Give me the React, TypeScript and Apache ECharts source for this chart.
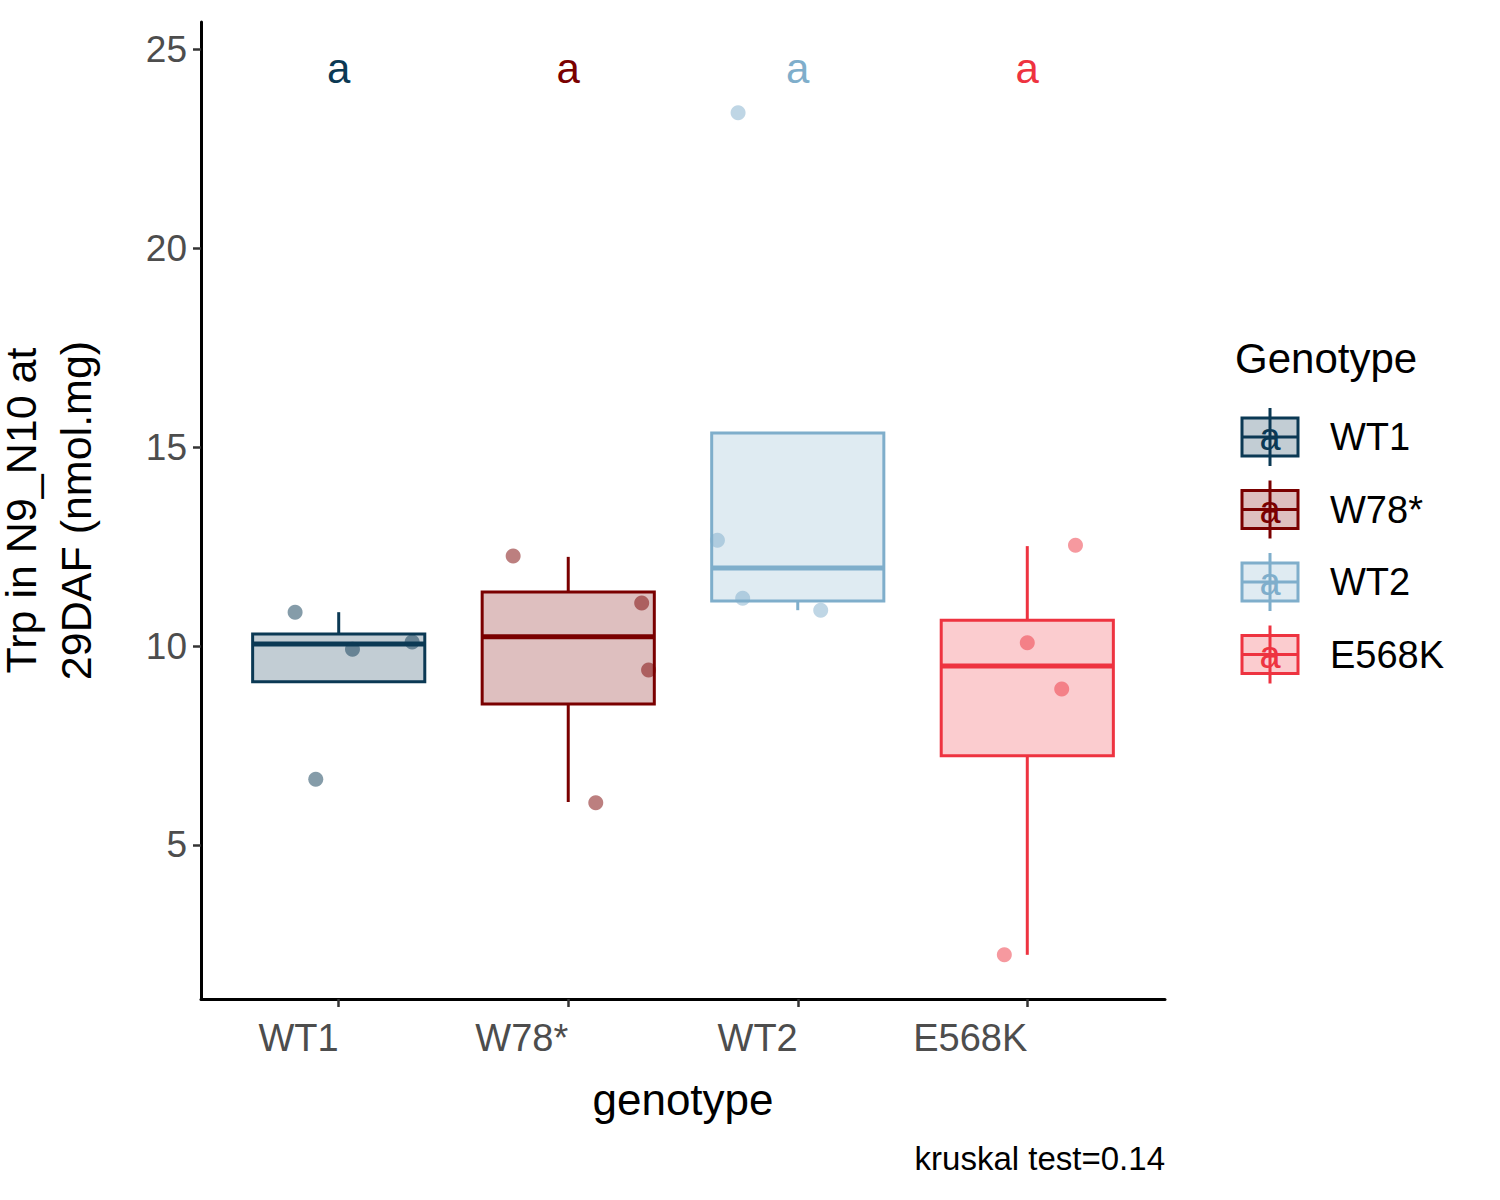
import { useEffect, useRef } from "react";
import * as echarts from "echarts";

const genotypes = ["WT1", "W78*", "WT2", "E568K"];
const colors = ["#0B3954", "#7A0000", "#7FAECB", "#EE3340"];
// [lowerWhisker, q1, median, q3, upperWhisker]
const boxStats = [
  [9.1, 9.1, 10.05, 10.3, 10.85],
  [6.08, 8.54, 10.23, 11.36, 12.24],
  [10.9, 11.13, 11.96, 15.35, 15.35],
  [2.24, 7.24, 9.5, 10.65, 12.51],
];
// jittered points: [x offset, value]
const points = [
  [[-0.19, 10.85], [0.06, 9.92], [-0.1, 6.65], [0.32, 10.1]],
  [[-0.24, 12.26], [0.32, 11.08], [0.35, 9.4], [0.12, 6.06]],
  [[-0.26, 23.4], [-0.35, 12.66], [-0.24, 11.2], [0.1, 10.9]],
  [[0.21, 12.53], [0.0, 10.08], [0.15, 8.92], [-0.1, 2.24]],
];
const letters = ["a", "a", "a", "a"];
const yTicks = [5, 10, 15, 20, 25];

function alpha(hex: string, a: number) {
  const n = parseInt(hex.slice(1), 16);
  return `rgba(${(n >> 16) & 255},${(n >> 8) & 255},${n & 255},${a})`;
}

function App() {
  const chartRef = useRef(null);

  useEffect(() => {
    document.body.style.margin = "0";
    const chart = echarts.init(chartRef.current, null, { renderer: "svg" });
    const font = "Arial, 'Liberation Sans', sans-serif";

    const legendItems: any[] = [];
    genotypes.forEach((g, i) => {
      const cy = 437 + i * 72.5;
      const c = colors[i];
      legendItems.push(
        { type: "line", shape: { x1: 1270, y1: cy - 29, x2: 1270, y2: cy + 29 }, style: { stroke: c, lineWidth: 3 } },
        { type: "rect", shape: { x: 1242, y: cy - 19, width: 56, height: 38 }, style: { fill: alpha(c, 0.25), stroke: c, lineWidth: 3 } },
        { type: "line", shape: { x1: 1242, y1: cy, x2: 1298, y2: cy }, style: { stroke: c, lineWidth: 3 } },
        { type: "text", x: 1270, y: cy, style: { text: "a", fill: c, font: `38px ${font}`, align: "center", verticalAlign: "middle" } },
        { type: "text", x: 1330, y: cy, style: { text: g, fill: "#000", font: `38px ${font}`, verticalAlign: "middle" } }
      );
    });

    const option = {
      animation: false,
      grid: { left: 201, right: 335, top: 22, bottom: 201, containLabel: false, outerBoundsMode: "none" },
      xAxis: {
        type: "value",
        min: -0.6,
        max: 3.6,
        splitLine: { show: false },
        axisLine: { show: true, onZero: false, lineStyle: { color: "#000", width: 3 } },
        axisTick: { show: true, customValues: [0, 1, 2, 3], length: 8, lineStyle: { color: "#333", width: 2.5 } },
        axisLabel: {
          customValues: [0, 1, 2, 3],
          formatter: (v: number) => genotypes[Math.round(v)],
          align: "right",
          margin: 20,
          fontSize: 38,
          color: "#4D4D4D",
          fontFamily: font,
        },
        name: "genotype",
        nameLocation: "middle",
        nameGap: 78,
        nameTextStyle: { fontSize: 44, color: "#000", fontFamily: font },
      },
      yAxis: {
        type: "value",
        min: 1.13,
        max: 25.68,
        splitLine: { show: false },
        axisLine: { show: true, onZero: false, lineStyle: { color: "#000", width: 3 } },
        axisTick: { show: true, customValues: yTicks, length: 8, lineStyle: { color: "#333", width: 2.5 } },
        axisLabel: { customValues: yTicks, margin: 14, fontSize: 37, color: "#4D4D4D", fontFamily: font },
        name: "Trp in N9_N10 at\n29DAF (nmol.mg)",
        nameLocation: "middle",
        nameGap: 98,
        nameTextStyle: { fontSize: 43, color: "#000", fontFamily: font, lineHeight: 55 },
      },
      series: [
        {
          type: "custom",
          data: boxStats.map((s, i) => [i, ...s]),
          renderItem: (params: any, api: any) => {
            const i = api.value(0);
            const c = colors[i];
            const lo = api.coord([i, api.value(1)]);
            const q1 = api.coord([i, api.value(2)]);
            const md = api.coord([i, api.value(3)]);
            const q3 = api.coord([i, api.value(4)]);
            const hi = api.coord([i, api.value(5)]);
            const l = api.coord([i - 0.375, 0])[0];
            const r = api.coord([i + 0.375, 0])[0];
            return {
              type: "group",
              children: [
                { type: "line", shape: { x1: lo[0], y1: lo[1], x2: q1[0], y2: q1[1] }, style: { stroke: c, lineWidth: 3 } },
                { type: "line", shape: { x1: q3[0], y1: q3[1], x2: hi[0], y2: hi[1] }, style: { stroke: c, lineWidth: 3 } },
                { type: "rect", shape: { x: l, y: q3[1], width: r - l, height: q1[1] - q3[1] }, style: { fill: alpha(c, 0.25), stroke: c, lineWidth: 3 } },
                { type: "line", shape: { x1: l, y1: md[1], x2: r, y2: md[1] }, style: { stroke: c, lineWidth: 5 } },
              ],
            };
          },
        },
        ...points.map((p, i) => ({
          type: "scatter",
          symbolSize: 15,
          itemStyle: { color: alpha(colors[i], 0.5), opacity: 1 },
          data: p.map(([dx, v]) => [i + dx, v]),
        })),
        {
          type: "custom",
          data: letters.map((t, i) => [i, 24.5]),
          renderItem: (params: any, api: any) => {
            const i = api.value(0);
            const p = api.coord([i, api.value(1)]);
            return {
              type: "text",
              x: p[0],
              y: p[1],
              style: { text: letters[i], fill: colors[i], font: `42px ${font}`, align: "center", verticalAlign: "middle" },
            };
          },
        },
      ],
      graphic: [
        { type: "text", x: 1235, y: 358, style: { text: "Genotype", fill: "#000", font: `42px ${font}`, verticalAlign: "middle" } },
        ...legendItems,
        { type: "text", x: 1165, y: 1158, style: { text: "kruskal test=0.14", fill: "#000", font: `33px ${font}`, align: "right", verticalAlign: "middle" } },
      ],
    };

    chart.setOption(option as any);
    return () => {
      chart.dispose();
    };
  }, []);

  return <div ref={chartRef} style={{ width: 1500, height: 1200 }} />;
}

export default App;
